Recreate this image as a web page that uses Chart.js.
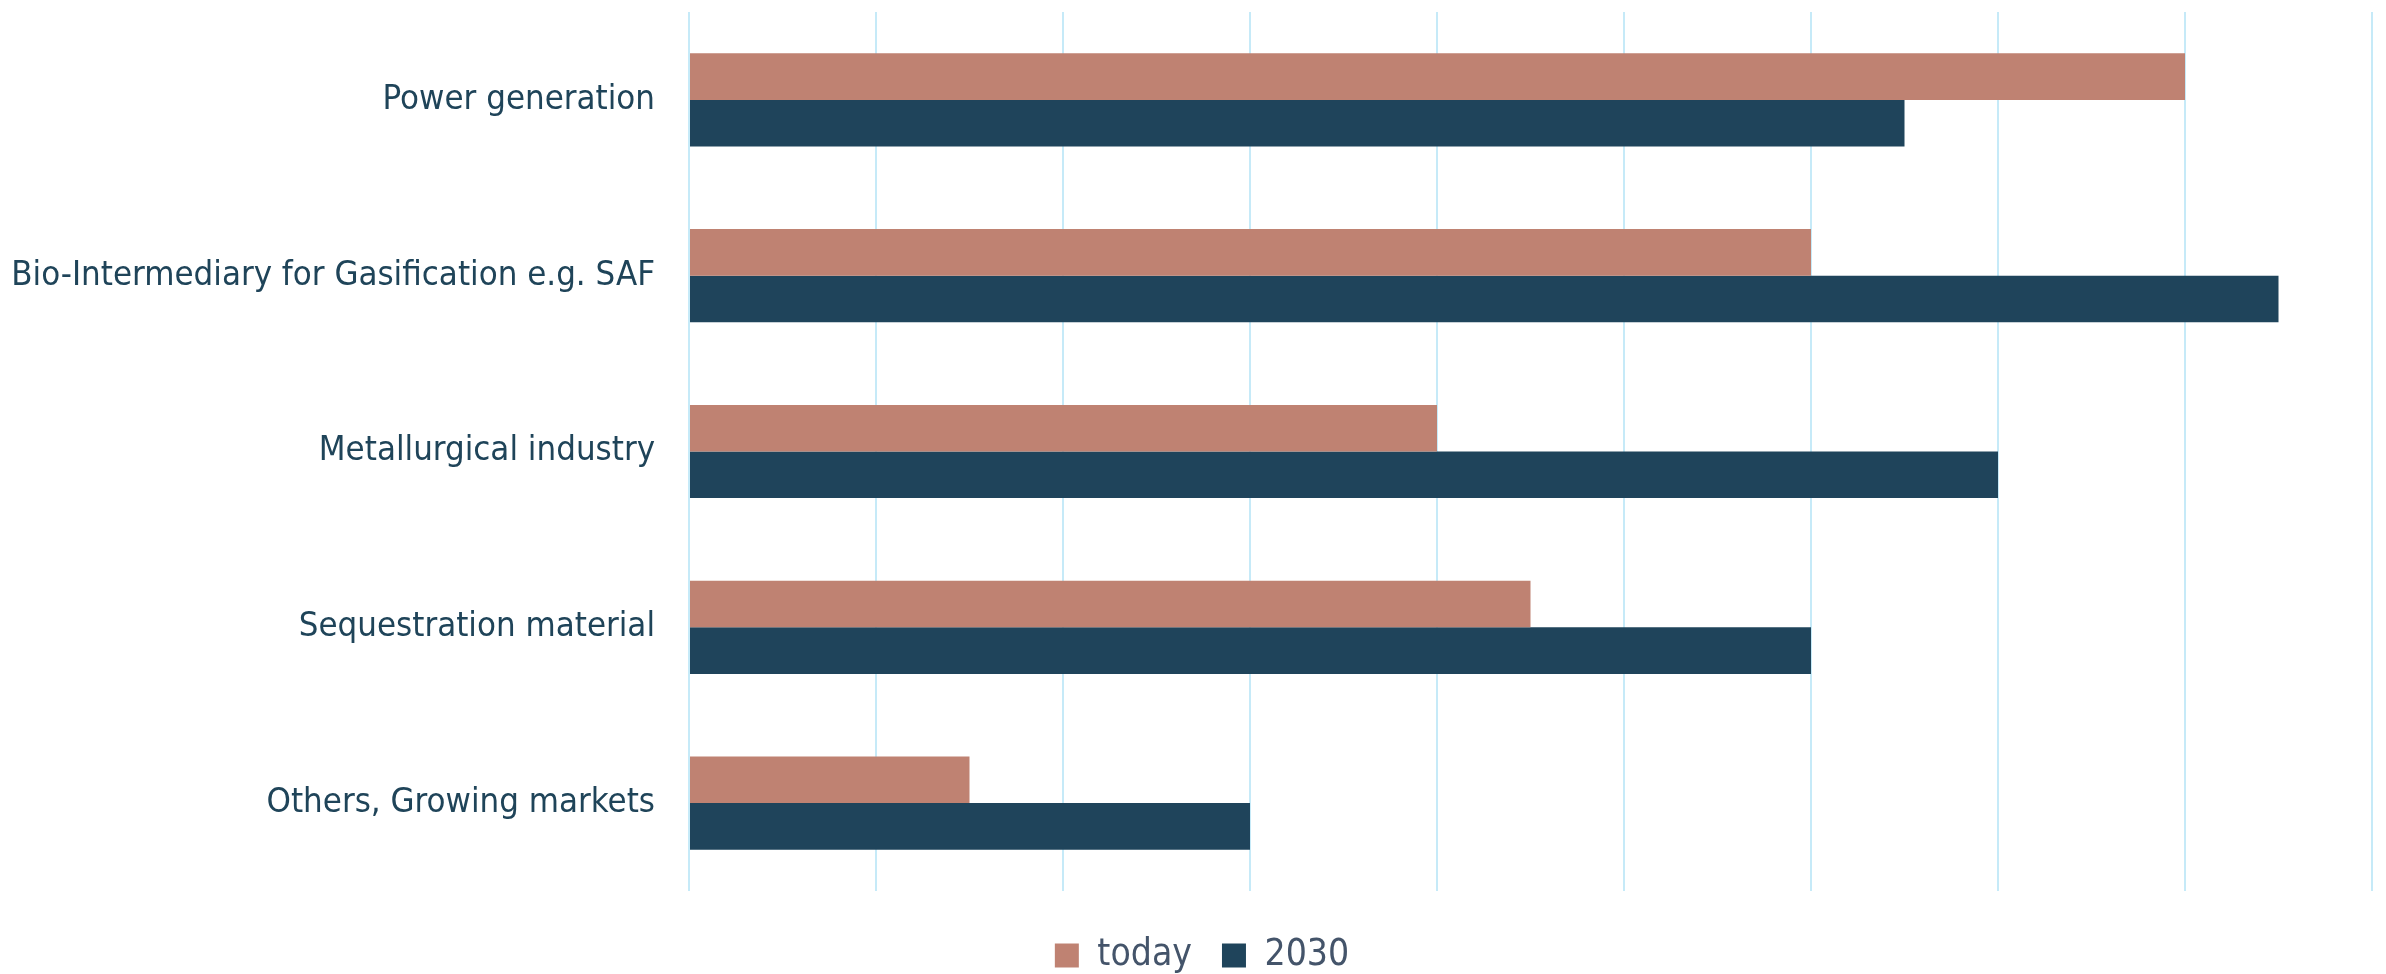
<!DOCTYPE html>
<html>
<head>
<meta charset="utf-8">
<script src="https://cdn.jsdelivr.net/npm/chart.js@4"></script>
<style>
  html, body { margin: 0; padding: 0; background: #fff; }
  #wrap { width: 2386px; height: 974px; }
</style>
</head>
<body>
<div id="wrap"><canvas id="chart" width="2386" height="974"></canvas></div>
<script>
var categories = ['Power generation', 'Bio-Intermediary for Gasification e.g. SAF', 'Metallurgical industry', 'Sequestration material', 'Others, Growing markets'];
var todayValues = [8, 6, 4, 4.5, 1.5];
var values2030 = [6.5, 8.5, 7, 6, 3];
var seriesNames = ['today', '2030'];

var labelFont = '"Liberation Sans Narrow", "DejaVu Sans Condensed", sans-serif';

// sposta un po' la legenda verso destra
var legendShift = {
  id: 'legendShift',
  afterLayout: function(chart) {
    chart.legend.left += 16;
    chart.legend.right += 16;
  }
};

var ctx = document.getElementById('chart').getContext('2d');
var chart = new Chart(ctx, {
  type: 'bar',
  data: {
    labels: categories,
    datasets: [{
      label: seriesNames[0],
      data: todayValues,
      backgroundColor: '#BF8272'
    }, {
      label: seriesNames[1],
      data: values2030,
      backgroundColor: '#1F445B'
    }]
  },
  options: {
    indexAxis: 'y',
    responsive: false,
    animation: false,
    layout: { padding: { top: 12, right: 14, bottom: -10, left: 0 } },
    datasets: { bar: { categoryPercentage: 0.53, barPercentage: 1 } },
    scales: {
      x: {
        min: 0, max: 9,
        ticks: { stepSize: 1, display: false },
        grid: { color: '#C6EAF8', lineWidth: 2, drawTicks: false },
        border: { display: false },
        afterFit: function(axis) { axis.height = 16; }
      },
      y: {
        afterFit: function(axis) {
          axis.width = 689;
          axis.paddingTop = 0;
          axis.paddingBottom = 0;
        },
        grid: { display: false },
        border: { display: false },
        ticks: {
          color: '#1F4459',
          padding: 26,
          font: { family: labelFont, size: 34.5 }
        }
      }
    },
    plugins: {
      legend: {
        position: 'bottom',
        labels: {
          color: '#44546A',
          boxWidth: 24,
          boxHeight: 24,
          padding: 30,
          font: { family: labelFont, size: 37 }
        }
      },
      tooltip: { enabled: false }
    }
  },
  plugins: [legendShift]
});
</script>
</body>
</html>
